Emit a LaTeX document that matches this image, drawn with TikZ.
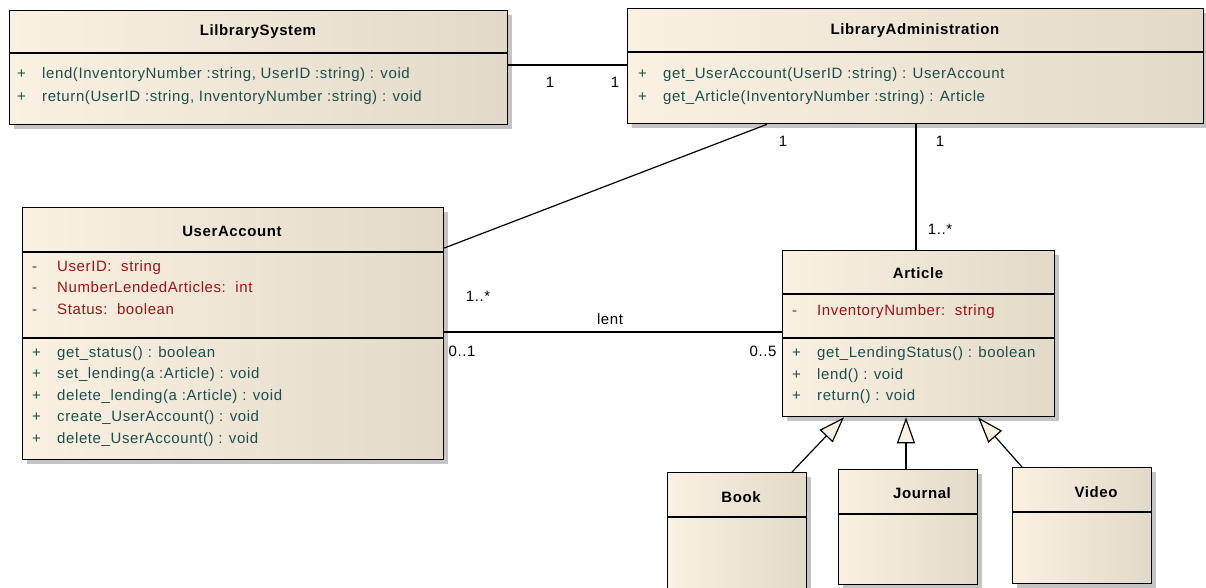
\documentclass[tikz,border=0pt]{standalone}
\usepackage{fontspec}
\setmainfont{Liberation Sans}[LetterSpace=4]
\usetikzlibrary{arrows.meta,shadows}

\definecolor{boxleft}{HTML}{FBF1E3}
\definecolor{boxright}{HTML}{E3D9C8}
\definecolor{attrred}{HTML}{9E1414}
\definecolor{methteal}{HTML}{1B4F4F}
\definecolor{shadowgrey}{HTML}{C4C4C4}

\newcommand{\umlvis}[1]{\makebox[25pt][l]{#1}}

\begin{document}
\begin{tikzpicture}[x=1pt, y=-1pt,
        every node/.style={font=\fontsize{15pt}{18pt}\selectfont},
        classbox/.style={draw, line width=1.3pt, anchor=north west, inner sep=0pt,
            left color=boxleft, middle color=boxleft!80!boxright, right color=boxright,
            drop shadow={shadow xshift=4pt, shadow yshift=-4pt, fill=shadowgrey, opacity=1}},
        classname/.style={font=\fontsize{15pt}{18pt}\selectfont\bfseries},
        attr/.style={anchor=west, inner sep=0pt, text height=11pt, text depth=3pt, text=attrred},
        meth/.style={anchor=west, inner sep=0pt, text height=11pt, text depth=3pt, text=methteal},
        mult/.style={inner sep=1pt, fill=white},
        sepline/.style={line width=1.3pt},
        assoc/.style={line width=1.2pt},
        inherit/.style={line width=1.2pt, -{Triangle[length=26pt, width=18pt, fill=boxleft]}}]
    \useasboundingbox (0,0) rectangle (1206,587);

    % LilbrarySystem
    \node[classbox, minimum width=498pt, minimum height=114pt] (sys) at (9,10) {};
    \draw[sepline] (sys.west |- 0,53) -- (sys.east |- 0,53);
    \node[classname] (sysname) at (258,32) {LilbrarySystem};
    \node[meth] (sysm1) at (17,74) {\umlvis{+}lend(InventoryNumber :string, UserID :string) : void};
    \node[meth] (sysm2) at (17,97) {\umlvis{+}return(UserID :string, InventoryNumber :string) : void};

    % LibraryAdministration
    \node[classbox, minimum width=576pt, minimum height=115pt] (admin) at (627,8) {};
    \draw[sepline] (admin.west |- 0,52) -- (admin.east |- 0,52);
    \node[classname] (adminname) at (915,31) {LibraryAdministration};
    \node[meth] (adminm1) at (638,74) {\umlvis{+}get\_UserAccount(UserID :string) : UserAccount};
    \node[meth] (adminm2) at (638,97) {\umlvis{+}get\_Article(InventoryNumber :string) : Article};

    % UserAccount
    \node[classbox, minimum width=421pt, minimum height=252pt] (account) at (22,207) {};
    \draw[sepline] (account.west |- 0,252) -- (account.east |- 0,252);
    \draw[sepline] (account.west |- 0,338) -- (account.east |- 0,338);
    \node[classname] (accountname) at (232,231) {UserAccount};
    \node[attr] (accounta1) at (32,267) {\umlvis{-}UserID:\ \ string};
    \node[attr] (accounta2) at (32,288) {\umlvis{-}NumberLendedArticles:\ \ int};
    \node[attr] (accounta3) at (32,310) {\umlvis{-}Status:\ \ boolean};
    \node[meth] (accountm1) at (32,353) {\umlvis{+}get\_status() : boolean};
    \node[meth] (accountm2) at (32,374) {\umlvis{+}set\_lending(a :Article) : void};
    \node[meth] (accountm3) at (32,396) {\umlvis{+}delete\_lending(a :Article) : void};
    \node[meth] (accountm4) at (32,417) {\umlvis{+}create\_UserAccount() : void};
    \node[meth] (accountm5) at (32,439) {\umlvis{+}delete\_UserAccount() : void};

    % Article
    \node[classbox, minimum width=272pt, minimum height=166pt] (article) at (782,250) {};
    \draw[sepline] (article.west |- 0,294) -- (article.east |- 0,294);
    \draw[sepline] (article.west |- 0,338) -- (article.east |- 0,338);
    \node[classname] (articlename) at (918,273) {Article};
    \node[attr] (articlea1) at (792,311) {\umlvis{-}InventoryNumber:\ \ string};
    \node[meth] (articlem1) at (792,353) {\umlvis{+}get\_LendingStatus() : boolean};
    \node[meth] (articlem2) at (792,375) {\umlvis{+}lend() : void};
    \node[meth] (articlem3) at (792,396) {\umlvis{+}return() : void};

    % subclasses
    \node[classbox, minimum width=139pt, minimum height=140pt] (book) at (667,472) {};
    \draw[sepline] (book.west |- 0,517) -- (book.east |- 0,517);
    \node[classname] (bookname) at (741,497) {Book};

    \node[classbox, minimum width=139pt, minimum height=115pt] (journal) at (838,469) {};
    \draw[sepline] (journal.west |- 0,514) -- (journal.east |- 0,514);
    \node[classname] (journalname) at (922,493) {Journal};

    \node[classbox, minimum width=139pt, minimum height=116pt] (video) at (1012,467) {};
    \draw[sepline] (video.west |- 0,512) -- (video.east |- 0,512);
    \node[classname] (videoname) at (1096,492) {Video};

    % associations
    \draw[assoc] (sys.east |- 0,65) -- (admin.west |- 0,65);
    \draw[assoc] (account.east |- 0,248) -- ([xshift=140pt]admin.south west);
    \draw[assoc] ([xshift=289pt]admin.south west) -- ([xshift=134pt]article.north west);
    \draw[assoc] (account.east |- 0,332) -- (article.west |- 0,332);

    % generalisations
    \draw[inherit] ([xshift=125pt]book.north west) -- ([xshift=62pt]article.south west);
    \draw[inherit] ([xshift=68pt]journal.north west) -- ([xshift=124pt]article.south west);
    \draw[inherit] ([xshift=10pt]video.north west) -- ([xshift=196pt]article.south west);

    % multiplicities
    \node[mult] (sysmult) at (550,82) {1};
    \node[mult] (adminmult) at (615,82) {1};
    \node[mult] (adminaccmult) at (783,141) {1};
    \node[mult] (adminartmult) at (940,141) {1};
    \node[mult] (artadminmult) at (940,229) {1..*};
    \node[mult] (accadminmult) at (478,296) {1..*};
    \node[mult] (lentlabel) at (610,319) {lent};
    \node[mult] (acclentmult) at (462,351) {0..1};
    \node[mult] (artlentmult) at (763,351) {0..5};
\end{tikzpicture}
\end{document}
